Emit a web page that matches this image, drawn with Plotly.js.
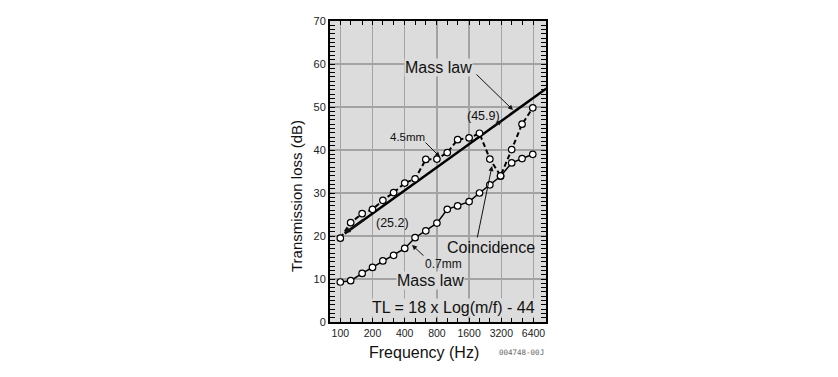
<!DOCTYPE html>
<html>
<head>
<meta charset="utf-8">
<script src="https://cdn.plot.ly/plotly-3.0.1.min.js"></script>
<style>html,body{margin:0;padding:0;background:#fff;}#chart{width:838px;height:377px;}</style>
</head>
<body>
<div id="chart"></div>
<script>
// ---- data ----
var freqs = [100,125,160,200,250,315,400,500,630,800,1000,1250,1600,2000,2500,3150,4000,5000,6300];
var tl45mm = [19.5,23.1,25.2,26.2,28.3,30.1,32.3,33.3,37.8,37.9,39.4,42.4,42.8,43.9,37.9,34.0,40.1,46.0,49.8];
var tl07mm = [9.3,9.6,11.3,12.7,14.2,15.5,17.1,19.6,21.2,23.0,26.2,27.0,28.0,30.0,31.9,33.9,37.0,38.0,39.0];
var massLawFreq = [110, 8450];
var massLawTL = [20.6, 54.3];
var xTickVals = [100,200,400,800,1600,3200,6400];
var xTickText = ['100','200','400','800','1600','3200','6400'];
var xMinorVals = [125,160,250,315,500,630,1000,1250,2000,2500,4000,5000];
var yTickVals = [0,10,20,30,40,50,60,70];

// ---- geometry helpers (pixel -> paper) ----
var L = 330, R = 546, T = 21, B = 322;
function px(x){ return (x - L) / (R - L); }
function py(y){ return (B - y) / (B - T); }

var FONT = 'Liberation Sans, Arial, Helvetica, sans-serif';
var BG = '#dcdcdc';

var traces = [
  {x: massLawFreq, y: massLawTL, mode: 'lines', line: {color: '#000', width: 2.5}, hoverinfo: 'skip', showlegend: false},
  {x: freqs, y: tl07mm, mode: 'lines+markers', line: {color: '#000', width: 1.5},
   marker: {symbol: 'circle', size: 6.5, color: '#fff', line: {color: '#000', width: 1.2}}, showlegend: false},
  {x: freqs, y: tl45mm, mode: 'lines+markers', line: {color: '#000', width: 2, dash: '5px,3px'},
   marker: {symbol: 'circle', size: 6.5, color: '#fff', line: {color: '#000', width: 1.2}}, showlegend: false}
];

function label(text, x, y, size, bg){
  var a = {xref: 'paper', yref: 'paper', x: px(x), y: py(y), text: text, showarrow: false,
    xanchor: 'center', yanchor: 'middle', font: {family: FONT, size: size, color: '#111'}};
  if (bg) { a.bgcolor = BG; a.borderpad = 0; }
  return a;
}
function arrow(hx, hy, tx, ty, w, head, size){
  return {xref: 'paper', yref: 'paper', x: px(hx), y: py(hy), ax: tx - hx, ay: ty - hy,
    text: '', showarrow: true, arrowhead: head, arrowsize: size, arrowwidth: w, arrowcolor: '#111'};
}

var annotations = [
  label('Mass law', 438, 67, 16, true),
  arrow(513, 110, 475, 73, 1, 2, 1),
  label('(45.9)', 483, 116, 12.5, false),
  arrow(502, 120.5, 492, 127.7, 2, 2, 0.5),
  label('4.5mm', 407, 137, 11.5, false),
  arrow(440, 157, 424, 141, 1, 2, 1),
  label('(25.2)', 392.5, 223, 12.5, false),
  arrow(345, 233, 365, 218.7, 2.5, 2, 0.45),
  label('Coincidence', 491, 248, 16, false),
  arrow(492, 166, 477, 239, 1, 2, 1),
  label('0.7mm', 443, 264, 12, false),
  arrow(412, 245, 425, 257, 1, 2, 1),
  label('Mass law', 430, 280, 16, true),
  label('TL = 18 x Log(m/f) - 44', 453.5, 307, 16, true),
  {xref: 'paper', yref: 'paper', x: px(297), y: py(196), text: 'Transmission loss (dB)', textangle: -90,
   showarrow: false, xanchor: 'center', yanchor: 'middle', font: {family: FONT, size: 15, color: '#111'}},
  {xref: 'paper', yref: 'paper', x: px(424), y: py(353), text: 'Frequency (Hz)',
   showarrow: false, xanchor: 'center', yanchor: 'middle', font: {family: FONT, size: 16, color: '#111'}},
  {xref: 'paper', yref: 'paper', x: px(521), y: py(353), text: '004748-00J',
   showarrow: false, xanchor: 'center', yanchor: 'middle', font: {family: 'DejaVu Sans Mono, monospace', size: 7.5, color: '#666'}}
];

var layout = {
  width: 838, height: 377,
  margin: {l: L, r: 838 - R, t: T, b: 377 - B, pad: 0},
  paper_bgcolor: '#fff', plot_bgcolor: BG,
  showlegend: false,
  xaxis: {
    type: 'log', range: [Math.log10(80.1), Math.log10(8375)],
    tickmode: 'array', tickvals: xTickVals, ticktext: xTickText,
    ticks: 'inside', ticklen: 4, tickwidth: 1, tickcolor: '#000',
    showgrid: true, gridcolor: '#a3a3a3', gridwidth: 1.5, zeroline: false,
    showline: true, linecolor: '#000', linewidth: 2, mirror: 'ticks',
    minor: {tickmode: 'array', tickvals: xMinorVals, ticks: 'inside', ticklen: 4, tickwidth: 1, tickcolor: '#000', showgrid: false},
    tickfont: {family: FONT, size: 10.5, color: '#222'}
  },
  yaxis: {
    range: [0, 70], tickmode: 'array', tickvals: yTickVals,
    ticks: 'inside', ticklen: 5, tickwidth: 1, tickcolor: '#000',
    showgrid: true, gridcolor: '#a3a3a3', gridwidth: 1.5, zeroline: false,
    showline: true, linecolor: '#000', linewidth: 2, mirror: 'ticks',
    minor: {dtick: 1, ticks: 'inside', ticklen: 5, tickwidth: 1, tickcolor: '#000', showgrid: false},
    tickfont: {family: FONT, size: 11, color: '#222'}
  },
  annotations: annotations
};

Plotly.newPlot('chart', traces, layout, {displayModeBar: false, staticPlot: true});
</script>
</body>
</html>
